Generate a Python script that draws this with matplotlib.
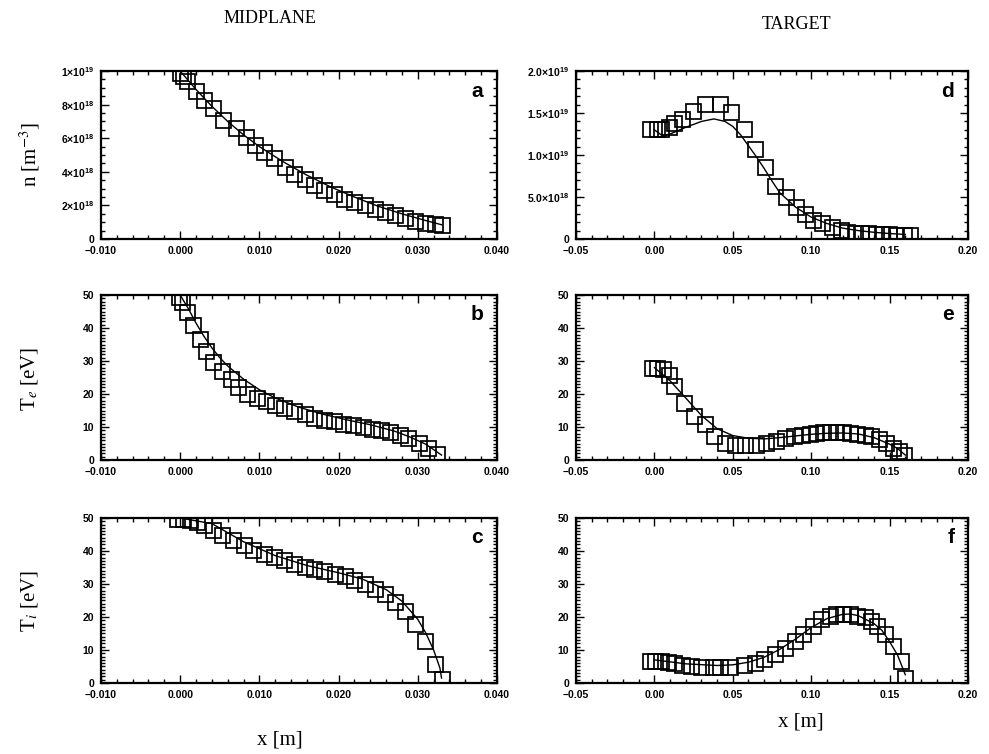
import numpy as np
import matplotlib
matplotlib.use("Agg")
import matplotlib.pyplot as plt
from matplotlib.ticker import MultipleLocator

# sans bold math for the tick labels, stix for the axis titles (set per text)
plt.rcParams['mathtext.fontset'] = 'custom'
plt.rcParams['mathtext.rm'] = 'Liberation Sans:bold'
plt.rcParams['mathtext.bf'] = 'Liberation Sans:bold'
plt.rcParams['mathtext.it'] = 'Liberation Sans:bold:italic'

# ---- midplane data (squares = measurement, line = model) ----
xa = [0.0, 0.0003, 0.0009, 0.0020, 0.0030, 0.0042, 0.0054, 0.0070, 0.0083, 0.0094, 0.0106,
      0.0119, 0.0132, 0.0144, 0.0157, 0.0169, 0.0181, 0.0194, 0.0207, 0.0219, 0.0233, 0.0246,
      0.0258, 0.0271, 0.0284, 0.0297, 0.0309, 0.0322, 0.0330]
na = [9.9, 9.7, 9.4, 8.8, 8.3, 7.8, 7.1, 6.6, 6.1, 5.6, 5.2, 4.8, 4.3, 3.9, 3.6, 3.2, 2.9,
      2.7, 2.4, 2.2, 2.0, 1.8, 1.63, 1.43, 1.23, 1.09, 0.95, 0.88, 0.84]
xa_line = [0.0, 0.002, 0.004, 0.006, 0.008, 0.010, 0.013, 0.016, 0.019, 0.022, 0.025, 0.028, 0.031, 0.033]
na_line = [10.0, 8.9, 7.9, 7.0, 6.2, 5.5, 4.6, 3.8, 3.1, 2.5, 1.95, 1.5, 1.1, 0.85]

xb = [-0.0002, 0.0002, 0.00085, 0.0016, 0.0025, 0.0033, 0.0042, 0.0053, 0.0064, 0.0073,
      0.0085, 0.0097, 0.0108, 0.0120, 0.0131, 0.0144, 0.0157, 0.0169, 0.0181, 0.0194, 0.0206,
      0.0218, 0.0231, 0.0242, 0.0254, 0.0265, 0.0278, 0.0288, 0.0301, 0.0313, 0.0324]
teb = [49.5, 48.0, 45.0, 40.8, 36.7, 33.0, 29.6, 27.0, 24.5, 22.0, 20.0, 18.9, 17.9, 16.8,
       15.8, 14.8, 13.8, 12.8, 12.2, 11.7, 11.0, 10.5, 10.0, 9.5, 9.0, 8.4, 7.7, 6.6, 5.1, 3.6, 1.8]
xb_line = [0.0, 0.001, 0.002, 0.003, 0.004, 0.005, 0.006, 0.008, 0.010, 0.012, 0.015, 0.018,
           0.021, 0.024, 0.027, 0.029, 0.031, 0.033]
teb_line = [50.0, 46.0, 41.5, 37.5, 34.0, 31.0, 28.5, 24.5, 21.3, 18.8, 16.0, 13.9, 12.2,
            10.7, 8.8, 7.0, 4.8, 1.5]

xc = [-0.0004, 0.0004, 0.0013, 0.0021, 0.0030, 0.0042, 0.0053, 0.0067, 0.0080, 0.0092, 0.0106,
      0.0119, 0.0131, 0.0144, 0.0157, 0.0169, 0.0182, 0.0195, 0.0208, 0.0220, 0.0233, 0.0246,
      0.0258, 0.0271, 0.0284, 0.0297, 0.0309, 0.0322, 0.0330]
tic = [49.8, 49.6, 49.3, 48.8, 47.9, 46.4, 44.9, 43.3, 41.8, 40.3, 39.1, 38.2, 37.2, 36.2,
       35.1, 34.6, 33.8, 33.1, 32.3, 31.2, 30.0, 28.5, 27.0, 24.4, 21.8, 18.0, 12.6, 5.9, 1.3]
xc_line = [0.0, 0.004, 0.008, 0.012, 0.016, 0.020, 0.023, 0.026, 0.028, 0.030, 0.031, 0.032, 0.0328, 0.033]
tic_line = [50.0, 48.3, 42.8, 38.6, 35.6, 33.4, 31.5, 28.3, 24.8, 19.3, 15.2, 10.0, 4.5, 1.5]

# ---- target data ----
xd = [-0.003, 0.0015, 0.0044, 0.009, 0.0125, 0.0175, 0.0246, 0.032, 0.0417, 0.049, 0.057,
      0.064, 0.0706, 0.077, 0.0838, 0.090, 0.096, 0.101, 0.107, 0.113, 0.119, 0.123, 0.128,
      0.132, 0.136, 0.141, 0.145, 0.1495, 0.154, 0.159, 0.163]
nd = [13.1, 13.1, 13.1, 13.3, 13.8, 14.3, 15.2, 16.1, 16.1, 15.1, 13.1, 10.7, 8.6, 6.3, 5.0,
      3.8, 3.0, 2.25, 1.85, 1.46, 1.07, 0.87, 0.75, 0.67, 0.67, 0.6, 0.6, 0.55, 0.5, 0.5, 0.45]
xd_line = [0.0, 0.005, 0.01, 0.02, 0.03, 0.038, 0.045, 0.05, 0.055, 0.06, 0.065, 0.07, 0.075,
           0.08, 0.09, 0.10, 0.11, 0.12, 0.13, 0.14, 0.15, 0.16]
nd_line = [13.0, 12.3, 12.5, 13.3, 14.0, 14.3, 14.0, 13.4, 12.4, 11.1, 9.8, 8.4, 6.9, 5.5,
           3.8, 2.6, 1.85, 1.3, 1.0, 0.8, 0.65, 0.55]

xe = [-0.0015, 0.0015, 0.0055, 0.009, 0.0125, 0.019, 0.025, 0.032, 0.038, 0.045, 0.0515, 0.058,
      0.0646, 0.071, 0.0774, 0.083, 0.089, 0.094, 0.099, 0.103, 0.1075, 0.112, 0.116, 0.1205,
      0.125, 0.129, 0.134, 0.138, 0.143, 0.148, 0.152, 0.156, 0.159]
tee = [27.8, 27.8, 27.6, 25.8, 22.5, 17.3, 13.4, 10.8, 7.2, 5.2, 4.6, 4.6, 4.6, 5.2, 5.9, 6.7,
       7.2, 7.7, 8.0, 8.2, 8.5, 8.5, 8.5, 8.5, 8.2, 8.0, 7.7, 7.2, 6.4, 5.2, 3.6, 2.6, 1.5]
xe_line = [0.0, 0.01, 0.02, 0.03, 0.04, 0.05, 0.06, 0.07, 0.08, 0.09, 0.10, 0.11, 0.12, 0.13,
           0.14, 0.15, 0.155, 0.16]
tee_line = [28.0, 24.0, 18.8, 13.5, 9.5, 7.4, 6.6, 6.4, 6.8, 7.3, 7.8, 8.1, 8.2, 7.9, 6.8,
            4.8, 3.5, 1.5]

xf = [-0.003, 0.0005, 0.0044, 0.0087, 0.0125, 0.0175, 0.0234, 0.030, 0.0375, 0.042, 0.0485,
      0.057, 0.064, 0.070, 0.077, 0.083, 0.0895, 0.095, 0.101, 0.106, 0.112, 0.116, 0.120,
      0.125, 0.129, 0.134, 0.138, 0.142, 0.147, 0.152, 0.157, 0.160]
tif = [6.8, 6.8, 6.8, 6.5, 6.0, 5.5, 5.1, 4.9, 4.9, 4.7, 4.9, 5.5, 6.2, 7.2, 8.8, 10.6, 12.7,
       14.7, 17.3, 19.3, 20.4, 20.9, 20.9, 20.9, 20.4, 19.9, 18.8, 17.3, 14.7, 11.1, 6.8, 1.5]
xf_line = [0.0, 0.02, 0.04, 0.05, 0.06, 0.07, 0.08, 0.09, 0.10, 0.11, 0.12, 0.125, 0.13, 0.14,
           0.145, 0.15, 0.155, 0.16]
tif_line = [7.0, 5.8, 5.3, 5.5, 6.3, 7.8, 10.2, 13.3, 16.8, 19.5, 20.8, 20.9, 20.4, 18.0,
            16.0, 12.5, 8.5, 2.5]

n_mid_ticks = [0, 2e18, 4e18, 6e18, 8e18, 1e19]
n_mid_labels = ['0', r'2×10$^{18}$', r'4×10$^{18}$', r'6×10$^{18}$', r'8×10$^{18}$', r'1×10$^{19}$']
n_tar_ticks = [0, 5e18, 1e19, 1.5e19, 2e19]
n_tar_labels = ['0', r'5.0×10$^{18}$', r'1.0×10$^{19}$', r'1.5×10$^{19}$', r'2.0×10$^{19}$']
t_ticks = [0, 10, 20, 30, 40, 50]
x_mid_ticks = [-0.010, 0.000, 0.010, 0.020, 0.030, 0.040]
x_tar_ticks = [-0.05, 0.00, 0.05, 0.10, 0.15, 0.20]

fig = plt.figure(figsize=(9.89, 7.54), dpi=100)

cols = [(0.1021, 0.4004), (0.5824, 0.3964)]
rows = [(0.683, 0.2228), (0.3899, 0.2188), (0.0942, 0.2188)]

panels = [
    (0, 0, xa, na, xa_line, na_line, 1e18, 'a'),
    (1, 0, xb, teb, xb_line, teb_line, 1, 'b'),
    (2, 0, xc, tic, xc_line, tic_line, 1, 'c'),
    (0, 1, xd, nd, xd_line, nd_line, 1e18, 'd'),
    (1, 1, xe, tee, xe_line, tee_line, 1, 'e'),
    (2, 1, xf, tif, xf_line, tif_line, 1, 'f'),
]

tickfont = dict(family='Liberation Sans', weight='bold', size=7.5)

for r, c, xs, ys, xl, yl, scale, letter in panels:
    ax = fig.add_axes([cols[c][0], rows[r][0], cols[c][1], rows[r][1]])
    ax.plot(xl, np.array(yl) * scale, color='black', lw=1.0, zorder=2)
    ax.plot(xs, np.array(ys) * scale, ls='none', marker='s', ms=10.8, mfc='none',
            mec='black', mew=1.25, zorder=3)
    if c == 0:
        ax.set_xlim(-0.010, 0.040)
        ax.set_xticks(x_mid_ticks, labels=['%.3f' % v if v >= 0 else '−%.3f' % -v for v in x_mid_ticks])
        ax.xaxis.set_minor_locator(MultipleLocator(0.002))
    else:
        ax.set_xlim(-0.05, 0.20)
        ax.set_xticks(x_tar_ticks, labels=['%.2f' % v if v >= 0 else '−%.2f' % -v for v in x_tar_ticks])
        ax.xaxis.set_minor_locator(MultipleLocator(0.01))
    if r == 0:
        if c == 0:
            ax.set_ylim(0, 1e19)
            ax.set_yticks(n_mid_ticks, labels=n_mid_labels)
            ax.yaxis.set_minor_locator(MultipleLocator(5e17))
        else:
            ax.set_ylim(0, 2e19)
            ax.set_yticks(n_tar_ticks, labels=n_tar_labels)
            ax.yaxis.set_minor_locator(MultipleLocator(1e18))
    else:
        ax.set_ylim(0, 50)
        ax.set_yticks(t_ticks, labels=[str(v) for v in t_ticks])
        ax.yaxis.set_minor_locator(MultipleLocator(1))
    ax.tick_params(which='both', direction='in', top=True, right=True, width=1.0)
    ax.tick_params(which='major', length=6, pad=5)
    ax.tick_params(which='minor', length=3)
    for lab in ax.get_xticklabels() + ax.get_yticklabels():
        lab.set_fontproperties(tickfont)
        lab.set_math_fontfamily('custom')
    for s in ax.spines.values():
        s.set_linewidth(1.6)
    ax.text(0.965, 0.88, letter, transform=ax.transAxes, ha='right', va='center',
            fontsize=15, fontweight='bold', family='Liberation Sans')

serif = dict(family='Liberation Serif', size=13)
lab = dict(family='Liberation Serif', size=15, math_fontfamily='stix', ha='center', va='center')
fig.text(0.273, 0.975, 'MIDPLANE', ha='center', va='center', **serif)
fig.text(0.805, 0.968, 'TARGET', ha='center', va='center', **serif)
fig.text(0.030, 0.795, 'n [m$^{-3}$]', rotation=90, **lab)
fig.text(0.030, 0.498, 'T$_e$ [eV]', rotation=90, **lab)
fig.text(0.030, 0.203, 'T$_i$ [eV]', rotation=90, **lab)
fig.text(0.283, 0.018, 'x [m]', **lab)
fig.text(0.810, 0.042, 'x [m]', **lab)

fig.savefig('out.png', dpi=100)
